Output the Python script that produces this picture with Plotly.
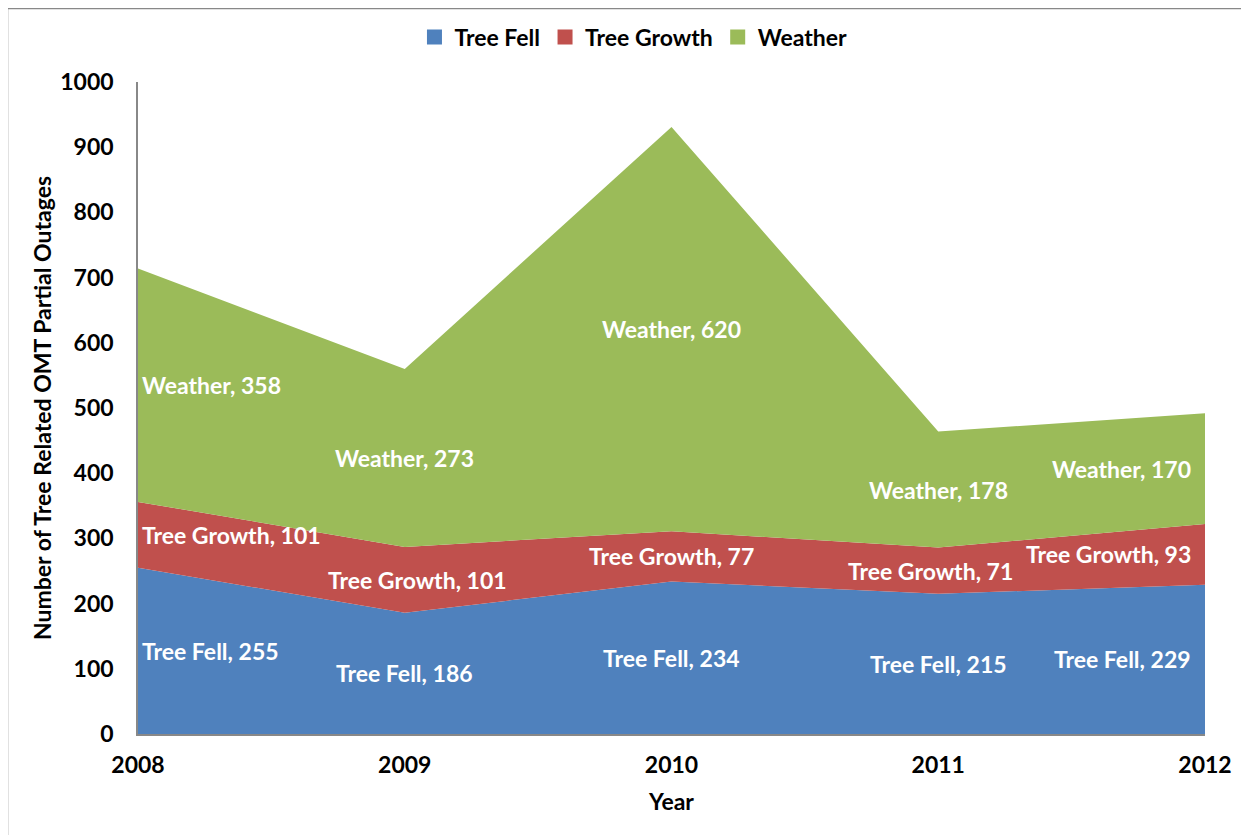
import plotly.graph_objects as go

years = [2008, 2009, 2010, 2011, 2012]
tree_fell = [255, 186, 234, 215, 229]
tree_growth = [101, 101, 77, 71, 93]
weather = [358, 273, 620, 178, 170]

series = [
    ("Tree Fell", tree_fell, "#4F81BD"),
    ("Tree Growth", tree_growth, "#C0504D"),
    ("Weather", weather, "#9BBB59"),
]

# small horizontal nudges of individual labels (pixels)
label_nudge = {("Tree Growth", 2009): 13, ("Tree Growth", 2011): -8}

FONT = "Lato"
fig = go.Figure()
for name, vals, col in series:
    fig.add_trace(go.Scatter(
        x=years, y=vals, name=name, mode="lines", stackgroup="one",
        line=dict(width=0, color=col), fillcolor=col, showlegend=False,
    ))
# legend entries with square keys
for name, vals, col in series:
    fig.add_trace(go.Scatter(
        x=[None], y=[None], name=name, mode="markers",
        marker=dict(symbol="square", size=15, color=col), showlegend=True,
    ))

# data labels at band midpoints
base = [0] * len(years)
for name, vals, col in series:
    for i, (yr, v) in enumerate(zip(years, vals)):
        mid = base[i] + v / 2
        if i == 0:
            xa, xs = "left", 2
        elif i == len(years) - 1:
            xa, xs = "right", -12
        else:
            xa, xs = "center", 0
        xs += label_nudge.get((name, yr), 0)
        fig.add_annotation(
            x=yr, y=mid, text=f"{name}, {v}", showarrow=False,
            xanchor=xa, yanchor="middle", xshift=xs,
            font=dict(family=FONT, size=23, color="white", weight="bold"),
        )
    base = [b + v for b, v in zip(base, vals)]

fig.update_layout(
    width=1241, height=827,
    margin=dict(l=130, r=44, t=74, b=101, autoexpand=False),
    paper_bgcolor="white", plot_bgcolor="white",
    font=dict(family=FONT, size=23, color="black", weight="bold"),
    showlegend=True,
    legend=dict(orientation="h", xref="container", yref="container",
                x=0.504, xanchor="center", y=0.965, yanchor="middle",
                font=dict(family=FONT, size=23, weight="bold"), traceorder="normal",
                itemwidth=30, tracegroupgap=0),
    xaxis=dict(
        range=[2008, 2012], tickmode="array", tickvals=years,
        ticktext=[str(y) for y in years], showgrid=False, zeroline=False,
        showline=True, linecolor="#888888", linewidth=1.5, ticks="",
        ticklabelstandoff=10,
        tickfont=dict(family=FONT, size=23, weight="bold"),
        title=dict(text="Year", font=dict(family=FONT, size=23, weight="bold"), standoff=17),
    ),
    yaxis=dict(
        range=[0, 1000], tickmode="linear", dtick=100, tick0=0,
        showgrid=False, zeroline=False, showline=True, linecolor="#888888",
        linewidth=1.5, ticks="", ticklabelstandoff=18,
        tickfont=dict(family=FONT, size=23, weight="bold"),
        title=dict(text="Number of Tree Related OMT Partial Outages",
                   font=dict(family=FONT, size=23, weight="bold"), standoff=2),
    ),
)

fig.add_shape(type="rect", xref="paper", yref="paper",
              x0=-130.5 / 1067, x1=1.2, y0=-0.3, y1=1 + 73.5 / 652,
              line=dict(color="#888888", width=1.5), fillcolor="rgba(0,0,0,0)", layer="below")

fig.write_html("out.html")
